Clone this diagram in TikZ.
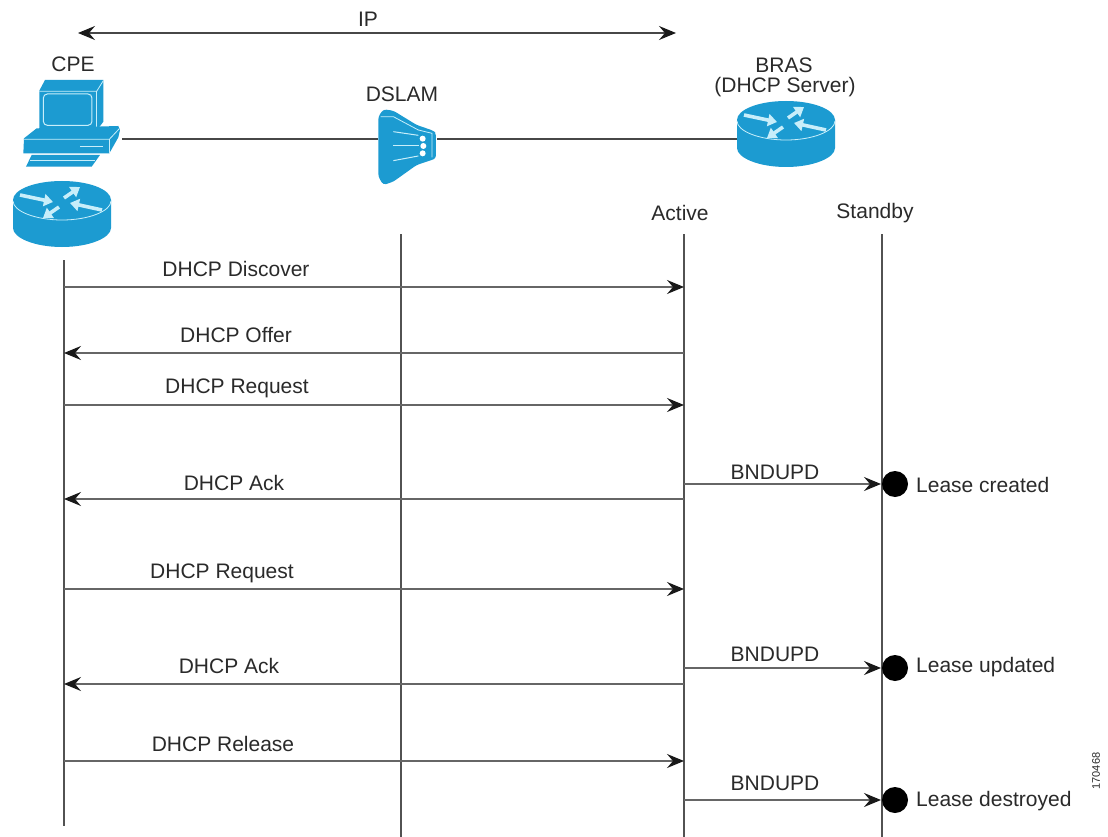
\documentclass[tikz,border=0pt]{standalone}
\usepackage{fontspec}
\setmainfont{Liberation Sans}
\usetikzlibrary{arrows.meta}
\definecolor{icon}{HTML}{1C9BD1}
\definecolor{iconlight}{HTML}{C8EEFA}
\definecolor{ink}{HTML}{2A2A2A}
\tikzset{
  x=1pt,y=-1pt,
  every node/.style={font=\fontsize{21}{24}\selectfont,text=ink,inner sep=0pt},
  lifeline/.style={draw=black!68,line width=1.8pt},
  link/.style={draw=black!72,line width=1.5pt},
  msg/.style={draw=black!60,line width=1.6pt,-{Stealth[length=17pt,width=14pt,inset=6pt,black!90]}},
  dbl/.style={draw=black!72,line width=1.5pt,{Stealth[length=17pt,width=14pt,inset=6pt,black!90]}-{Stealth[length=17pt,width=14pt,inset=6pt,black!90]}},
  dot/.style={circle,fill=black,minimum size=26pt},
  arw/.style={draw=iconlight,line width=3.6pt,-{Triangle[length=9pt,width=12pt]}},
  pics/routericon/.style={code={
    \fill[icon] (-49,0) -- (-49,28) .. controls (-49,38) and (-27,47) .. (0,47) .. controls (27,47) and (49,38) .. (49,28) -- (49,0) -- cycle;
    \fill[icon] (0,0) ellipse[x radius=49,y radius=19];
    \draw[iconlight,line width=.8pt] (-49,1) .. controls (-49,11) and (-27,20) .. (0,20) .. controls (27,20) and (49,11) .. (49,1);
    \draw[arw] (-42,-5) -- (-9,2);
    \draw[arw] (-3,7) -- (-19,18);
    \draw[arw] (40,10) -- (8,3);
    \draw[arw] (2,-2) -- (18,-13);
  }},
}
\begin{document}
\begin{tikzpicture}
\useasboundingbox (0,0) rectangle (1108,837);
\fill[white] (0,0) rectangle (1108,837);

% endpoints of the top links
\coordinate (ipL) at (78,33);
\coordinate (ipR) at (676,33);
\coordinate (pcR) at (122,139);
\coordinate (dsL) at (378,139);
\coordinate (dsR) at (437,139);
\coordinate (brL) at (737,139);

\draw[dbl] (ipL) -- (ipR);
\draw[link] (pcR) -- (dsL);
\draw[link] (dsR) -- (brL);

% computer
\begin{scope}[shift={(0,50)},x=.3333pt,y=-.3333pt]
  \fill[icon] (135,90) -- (310,90) -- (310,215) -- (290,242) -- (118,242) -- (118,122) -- cycle;
  \draw[iconlight,line width=.8pt] (118,124) -- (290,124) -- (310,92);
  \draw[iconlight,line width=.8pt] (290,124) -- (290,240);
  \draw[iconlight,line width=1pt,rounded corners=4pt] (130,132) rectangle (276,226);
  \fill[icon] (72,265) -- (110,235) -- (355,228) -- (360,240) -- (355,262) -- (328,310) -- (70,310) -- cycle;
  \draw[iconlight,line width=.8pt] (70,268) -- (328,268) -- (358,236);
  \draw[iconlight,line width=.8pt] (328,268) -- (328,308);
  \draw[iconlight,line width=1pt] (240,291) -- (310,291);
  \fill[icon] (95,315) -- (300,315) -- (275,350) -- (78,350) -- cycle;
  \draw[iconlight,line width=.6pt] (90,330) -- (285,330);
\end{scope}

% routers
\pic at (62,200) {routericon};
\pic at (786,120) {routericon};

% DSLAM
\begin{scope}[shift={(350,70)},x=.3333pt,y=-.3333pt]
  \fill[icon,rounded corners=3pt] (85,140) -- (100,118) -- (130,122) -- (200,165) -- (250,182) -- (258,190) -- (258,265) -- (245,270) -- (200,285) -- (130,335) -- (100,345) -- (85,320) -- cycle;
  \draw[iconlight,line width=.8pt] (92,140) -- (130,140) -- (205,180) -- (246,190) -- (246,262);
  \draw[iconlight,line width=1pt] (130,185) -- (205,196);
  \draw[iconlight,line width=1pt] (130,228) -- (208,228);
  \draw[iconlight,line width=1pt] (130,272) -- (205,258);
  \fill[white] (218,206) circle[radius=9];
  \fill[white] (220,228) circle[radius=9];
  \fill[white] (218,250) circle[radius=9];
\end{scope}

% lifelines
\coordinate (cpeT) at (64,260);  \coordinate (cpeB) at (64,826);
\coordinate (dslT) at (401,234); \coordinate (dslB) at (401,837);
\coordinate (actT) at (684,234); \coordinate (actB) at (684,837);
\coordinate (stbT) at (882,234); \coordinate (stbB) at (882,837);
\draw[lifeline] (cpeT) -- (cpeB);
\draw[lifeline] (dslT) -- (dslB);
\draw[lifeline] (actT) -- (actB);
\draw[lifeline] (stbT) -- (stbB);

% message endpoints
\foreach \n/\y in {a/287,b/353,c/405,d/499,e/589,f/684,g/761}{
  \coordinate (cpe\n) at (64,\y);
  \coordinate (act\n) at (684,\y);
}
\foreach \n/\y in {h/484,i/668,j/800}{
  \coordinate (act\n) at (684,\y);
  \coordinate (stb\n) at (881,\y);
}
\draw[msg] (cpea) -- (acta);
\draw[msg] (actb) -- (cpeb);
\draw[msg] (cpec) -- (actc);
\draw[msg] (actd) -- (cped);
\draw[msg] (cpee) -- (acte);
\draw[msg] (actf) -- (cpef);
\draw[msg] (cpeg) -- (actg);
\draw[msg] (acth) -- (stbh);
\draw[msg] (acti) -- (stbi);
\draw[msg] (actj) -- (stbj);

% state dots
\node[dot] (dot1) at (895,484) {};
\node[dot] (dot2) at (895,668) {};
\node[dot] (dot3) at (895,800) {};

% labels
\node (tIP) at (368,19) {IP};
\node (tCPE) at (73,64) {CPE};
\node (tDSLAM) at (402,94) {DSLAM};
\node (tBRAS) at (784,65) {BRAS};
\node (tSrv) at (785,87) {(DHCP Server)};
\node (tAct) at (680,213) {Active};
\node (tStb) at (875,213) {Standby};
\node (m1) at (236,269) {DHCP Discover};
\node (m2) at (236,335) {DHCP Offer};
\node (m3) at (237,388) {DHCP Request};
\node (m4) at (234,483) {DHCP Ack};
\node (m5) at (222,573) {DHCP Request};
\node (m6) at (229,666) {DHCP Ack};
\node (m7) at (223,744) {DHCP Release};
\node (b1) at (775,472) {BNDUPD};
\node (b2) at (775,654) {BNDUPD};
\node (b3) at (775,783) {BNDUPD};
\node[anchor=west] (l1) at (916,485) {Lease created};
\node[anchor=west] (l2) at (916,667) {Lease updated};
\node[anchor=west] (l3) at (916,801) {Lease destroyed};
\node[rotate=90,font=\fontsize{11}{12}\selectfont] (fig) at (1096,771) {170468};
\end{tikzpicture}
\end{document}
